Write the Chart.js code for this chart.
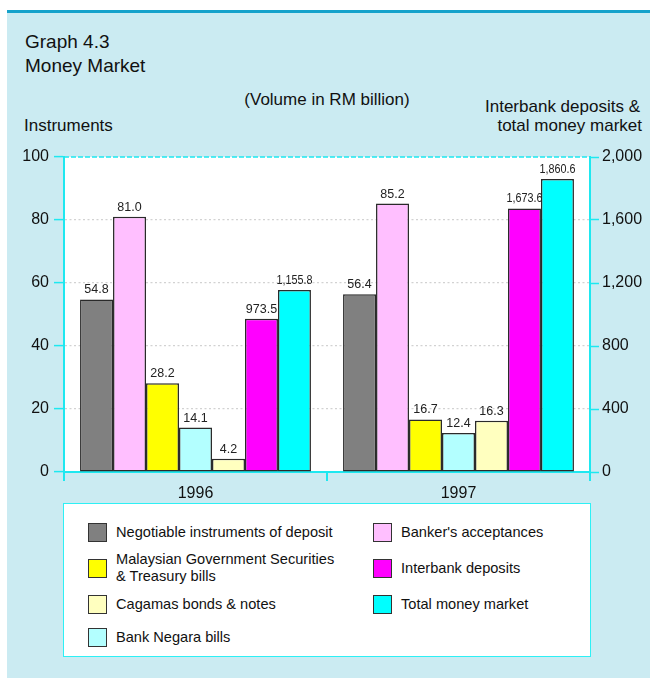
<!DOCTYPE html>
<html><head><meta charset="utf-8">
<script src="https://cdn.jsdelivr.net/npm/chart.js@4"></script>
<style>
html,body{margin:0;padding:0;background:#fff;width:650px;height:678px;overflow:hidden;font-family:"Liberation Sans",Arial,sans-serif;color:#111;}
#panel{position:absolute;left:7px;top:10px;width:643px;height:668px;background:#cbebf2;border-top:3px solid #15a2cb;box-sizing:border-box;}
.t{position:absolute;white-space:nowrap;line-height:1;}
#chartWrap{position:absolute;left:0;top:140px;width:650px;height:370px;}
#legend{position:absolute;left:63px;top:503px;width:528px;height:154px;background:#fff;border:1.5px solid #2ef0f5;box-sizing:border-box;}
.sw{position:absolute;width:19px;height:19px;border:1.5px solid #333;box-sizing:border-box;}
.lt{position:absolute;font-size:14.6px;line-height:17px;white-space:nowrap;color:#111;}
</style></head>
<body>
<div id="panel"></div>
<div class="t" style="left:25px;top:32px;font-size:19px;">Graph 4.3</div>
<div class="t" style="left:25px;top:56px;font-size:19px;">Money Market</div>
<div class="t" style="left:0;width:654px;text-align:center;top:91px;font-size:17px;">(Volume in RM billion)</div>
<div class="t" style="right:10px;top:98px;font-size:17px;text-align:right;">Interbank deposits &amp;</div>
<div class="t" style="right:8px;top:117px;font-size:17px;text-align:right;">total money market</div>
<div class="t" style="left:24px;top:117px;font-size:17px;">Instruments</div>
<div id="chartWrap"><canvas id="c" width="650" height="370"></canvas></div>
<div id="legend"></div>
<script>
// ---- data ----
const years = ["1996", "1997"];
const negotiableInstruments = [54.8, 56.4];
const bankersAcceptances = [81.0, 85.2];
const mgsTreasuryBills = [28.2, 16.7];
const bankNegaraBills = [14.1, 12.4];
const cagamasBonds = [4.2, 16.3];
const interbankDeposits = [973.5, 1673.6];
const totalMoneyMarket = [1155.8, 1860.6];
const leftTicks = [0, 20, 40, 60, 80, 100];
const rightTicks = [0, 400, 800, 1200, 1600, 2000];

const seriesLabels = ["Negotiable instruments of deposit", "Banker's acceptances",
  "Malaysian Government Securities\n& Treasury bills", "Bank Negara bills",
  "Cagamas bonds & notes", "Interbank deposits", "Total money market"];
const seriesColors = ["#808080", "#ffbfff", "#ffff00", "#b3ffff", "#ffffbf", "#ff00ff", "#00ffff"];
const seriesData = [negotiableInstruments, bankersAcceptances, mgsTreasuryBills, bankNegaraBills,
  cagamasBonds, interbankDeposits, totalMoneyMarket];
const seriesAxis = ["y", "y", "y", "y", "y", "y2", "y2"];

const CYAN = "#1ee8f0";
const fmt = v => v.toLocaleString("en-US", {minimumFractionDigits: 1, maximumFractionDigits: 1});

const datasets = seriesData.map((d, i) => ({
  label: seriesLabels[i],
  data: d,
  yAxisID: seriesAxis[i],
  backgroundColor: seriesColors[i],
  borderColor: "#2a2a2a",
  borderWidth: 1.5,
  borderSkipped: false,
  categoryPercentage: 0.878,
  barPercentage: 1.0
}));

const labelPlugin = {
  id: "labels",
  beforeDraw(chart) {
    const {ctx, chartArea: a} = chart;
    ctx.save();
    ctx.fillStyle = "#ffffff";
    ctx.fillRect(a.left, a.top, a.right - a.left, a.bottom - a.top);
    ctx.restore();
  },
  beforeDatasetsDraw(chart) {
    const {ctx, chartArea: a} = chart;
    ctx.save();
    ctx.strokeStyle = CYAN; ctx.lineWidth = 1.5; ctx.setLineDash([5, 2]);
    ctx.beginPath(); ctx.moveTo(a.left, a.top); ctx.lineTo(a.right, a.top); ctx.stroke();
    ctx.restore();
  },
  afterDatasetsDraw(chart) {
    const ctx = chart.ctx;
    ctx.save();
    ctx.font = '12.5px "Liberation Sans", Arial, sans-serif';
    ctx.fillStyle = "#222"; ctx.textAlign = "center"; ctx.textBaseline = "alphabetic";
    chart.data.datasets.forEach((ds, i) => {
      chart.getDatasetMeta(i).data.forEach((bar, j) => {
        ctx.fillText(fmt(ds.data[j]), bar.x, bar.y - 6, bar.width + 3);
      });
    });
    ctx.restore();
  }
};

const tickFont = {family: '"Liberation Sans", Arial, sans-serif', size: 16};

new Chart(document.getElementById("c"), {
  type: "bar",
  data: {labels: years, datasets},
  plugins: [labelPlugin],
  options: {
    responsive: false, animation: false,
    layout: {padding: {top: 17, left: 0, right: 0, bottom: 0}},
    plugins: {legend: {display: false}, tooltip: {enabled: false}},
    scales: {
      x: {
        grid: {offset: true, drawOnChartArea: false, color: CYAN, tickColor: CYAN, tickLength: 9, lineWidth: 2},
        border: {color: CYAN, width: 2},
        ticks: {color: "#111", font: tickFont, padding: 3},
        afterFit: s => { s.height = 38; }
      },
      y: {
        position: "left", min: 0, max: 100,
        afterBuildTicks: s => { s.ticks = leftTicks.map(v => ({value: v})); },
        grid: {
          color: c => (c.tick && (c.tick.value === 0 || c.tick.value === 100)) ? "rgba(0,0,0,0)" : "#d2d2d2",
          tickColor: CYAN, tickLength: 10, tickWidth: 1.5, tickBorderDash: [], lineWidth: 1.2
        },
        border: {color: CYAN, width: 2, dash: [2, 2.5]},
        ticks: {color: "#111", font: tickFont, padding: 5},
        afterFit: s => { s.width = 64; }
      },
      y2: {
        position: "right", min: 0, max: 2000,
        afterBuildTicks: s => { s.ticks = rightTicks.map(v => ({value: v})); },
        grid: {drawOnChartArea: false, tickColor: CYAN, tickLength: 9, tickWidth: 1.5},
        border: {color: CYAN, width: 2},
        ticks: {color: "#111", font: tickFont, padding: 3, callback: v => v.toLocaleString("en-US")},
        afterFit: s => { s.width = 60; }
      }
    }
  }
});

// ---- legend (custom box, two columns) ----
const legendOrder = [
  {i: 0, x: 24, cy: 28}, {i: 2, x: 24, cy: 64}, {i: 4, x: 24, cy: 100}, {i: 3, x: 24, cy: 133},
  {i: 1, x: 309, cy: 28}, {i: 5, x: 309, cy: 64}, {i: 6, x: 309, cy: 100}
];
const leg = document.getElementById("legend");
legendOrder.forEach(o => {
  const sw = document.createElement("div");
  sw.className = "sw";
  sw.style.left = o.x + "px"; sw.style.top = (o.cy - 9.5) + "px";
  sw.style.background = seriesColors[o.i];
  leg.appendChild(sw);
  const lines = seriesLabels[o.i].split("\n");
  const t = document.createElement("div");
  t.className = "lt";
  t.style.left = (o.x + 28) + "px";
  t.style.top = (o.cy - lines.length * 8.5) + "px";
  t.innerHTML = lines.map(s => s.replace(/&/g, "&amp;")).join("<br>");
  leg.appendChild(t);
});
</script>
</body></html>
